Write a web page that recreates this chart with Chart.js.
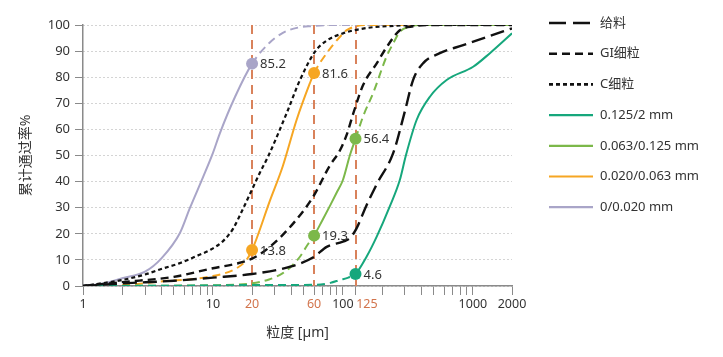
<!DOCTYPE html>
<html><head><meta charset="utf-8">
<script src="https://cdn.jsdelivr.net/npm/chart.js@4.4.0/dist/chart.umd.min.js"></script>
<style>html,body{margin:0;padding:0;background:#fff}#wrap{width:723px;height:357px}</style>
</head><body><div id="wrap"><canvas id="c" width="723" height="357"></canvas></div>
<script>
// ---- data ----
const seriesNames = ['给料', 'GI细粒', 'C细粒', '0.125/2 mm', '0.063/0.125 mm', '0.020/0.063 mm', '0/0.020 mm'];

const feedX = [1, 2, 5, 10, 20, 40, 60, 75, 100, 113, 127, 150, 182, 244, 300, 347, 415, 557, 842, 1300, 2000];
const feedY = [0, 1, 2, 3.2, 4.6, 7.5, 11.2, 15, 17, 18.3, 22, 30.3, 39, 51, 67, 79, 85.4, 89.2, 92.3, 95.5, 98.7];

const giX = [1, 2, 5, 10, 15, 20, 27.4, 41.5, 59, 79, 95, 107, 120, 143, 182, 217, 274, 350, 500, 2000];
const giY = [0, 1.5, 3.5, 6.8, 8.5, 10.5, 15, 24, 34.2, 46, 52, 58, 66, 77, 85.3, 91.5, 98, 99.5, 100, 100];

const cX = [1, 2, 3, 4, 5.6, 7.5, 9.5, 12, 14.3, 17, 20, 23, 26.5, 36.9, 46.7, 61, 75, 100, 150, 230, 400, 2000];
const cY = [0, 2.3, 4.4, 6.5, 8.8, 11.5, 13.8, 17.3, 22, 29.5, 37, 43.5, 49.5, 66.2, 78.9, 89.8, 94, 96.8, 98.8, 99.6, 100, 100];

const tealX = [1, 10, 20, 40, 63, 80, 95, 110, 125, 152, 182, 229, 274, 305, 369, 467, 628, 1005, 1352, 2000];
const tealY = [0, 0.2, 0.4, 0.4, 0.5, 1.2, 2.3, 3.2, 4.6, 11.2, 18.9, 30.4, 40.6, 50, 63.6, 72.5, 78.9, 84, 89.2, 96.8];

const greenX = [1, 10, 19.8, 27, 34.5, 40, 46.7, 53, 60, 70, 80, 90, 100, 113, 125, 143, 171, 217, 244, 274, 326, 400, 2000];
const greenY = [0, 0.3, 1, 2.5, 4.9, 7.5, 11.2, 15.5, 19.3, 25.5, 31, 36, 40.6, 50, 56.4, 65, 74, 88, 93, 97.4, 99.4, 100, 100];

const orangeX = [1, 2, 3.9, 9.5, 15.2, 18.1, 20, 27.4, 34.5, 44, 55.7, 60, 75, 95, 107, 150, 2000];
const orangeY = [0, 0.3, 1.7, 3.6, 6.8, 10, 13.8, 32.6, 46, 63.6, 77.7, 81.6, 89.2, 95.5, 98, 100, 100];

const lavX = [1, 1.5, 2, 3, 4.03, 5.57, 6.65, 8.42, 10, 11.3, 14.8, 20, 27, 34.5, 45, 58, 80, 2000];
const lavY = [0, 1.2, 3, 5.5, 10.7, 20.3, 29.9, 41.9, 51, 58.5, 72.5, 85.2, 93, 97, 99, 99.6, 100, 100];

// solid ranges of fraction curves and marked points
const tealRange = [125, 2000], greenRange = [60, 125], orangeRange = [20, 60], lavRange = [1, 20];
const tealMarks = [125], greenMarks = [60, 125], orangeMarks = [20, 60], lavMarks = [20];

const refLines = [20, 60, 125];
const xTickValues = [1,2,3,4,5,6,7,8,9,10,20,30,40,50,60,70,80,90,100,125,200,300,400,500,600,700,800,900,1000,2000];
const xTickLabels = [1, 10, 20, 60, 100, 125, 1000, 2000];
const yTickMax = 100, yTickStep = 10;

// ---- styles ----
const FONT = "'Noto Sans', 'Noto Sans CJK SC', sans-serif";
const TXT = '#333333';
const RED = '#d9825b';
const RED_TXT = '#d2744c';
const COL = {black:'#111111', teal:'#16a77c', green:'#7cb84a', orange:'#f6a623', lav:'#a9a5c8'};
const fracDash = [8, 5];

function pts(xs, ys){ return xs.map((x,i)=>({x:x, y:ys[i]})); }
function segDash(range){
  return ctx => (ctx.p0.parsed.x >= range[0]-1e-9 && ctx.p1.parsed.x <= range[1]+1e-9) ? [] : fracDash;
}
function markRadius(marks){ return ctx => (ctx.raw && marks.includes(ctx.raw.x)) ? 6 : 0; }

const datasets = [
  {label: seriesNames[0], data: pts(feedX, feedY), borderColor: COL.black, borderWidth: 2.4, borderDash: [14, 6], marks: []},
  {label: seriesNames[1], data: pts(giX, giY), borderColor: COL.black, borderWidth: 2.4, borderDash: [8, 5], marks: []},
  {label: seriesNames[2], data: pts(cX, cY), borderColor: COL.black, borderWidth: 2.2, borderDash: [4, 3], marks: []},
  {label: seriesNames[3], data: pts(tealX, tealY), borderColor: COL.teal, borderWidth: 2, segment:{borderDash: segDash(tealRange)}, marks: tealMarks},
  {label: seriesNames[4], data: pts(greenX, greenY), borderColor: COL.green, borderWidth: 2, segment:{borderDash: segDash(greenRange)}, marks: greenMarks},
  {label: seriesNames[5], data: pts(orangeX, orangeY), borderColor: COL.orange, borderWidth: 2, segment:{borderDash: segDash(orangeRange)}, marks: orangeMarks},
  {label: seriesNames[6], data: pts(lavX, lavY), borderColor: COL.lav, borderWidth: 2, segment:{borderDash: segDash(lavRange)}, marks: lavMarks}
].map(d => Object.assign(d, {
  fill: false, cubicInterpolationMode: 'monotone',
  pointRadius: markRadius(d.marks), pointBackgroundColor: d.borderColor, pointBorderColor: d.borderColor,
  pointBorderWidth: 0, pointHoverRadius: 0
}));

const refLinePlugin = {
  id: 'refLines',
  beforeDatasetsDraw(chart){
    const {ctx, chartArea, scales} = chart;
    ctx.save();
    ctx.strokeStyle = RED; ctx.lineWidth = 2; ctx.setLineDash([9, 6]);
    refLines.forEach(v => {
      const x = Math.round(scales.x.getPixelForValue(v));
      ctx.beginPath(); ctx.moveTo(x, chartArea.top); ctx.lineTo(x, chartArea.bottom); ctx.stroke();
    });
    ctx.restore();
  }
};

const pointLabelPlugin = {
  id: 'pointLabels',
  afterDatasetsDraw(chart){
    const ctx = chart.ctx;
    ctx.save();
    ctx.font = '13px ' + FONT; ctx.fillStyle = TXT; ctx.textAlign = 'left'; ctx.textBaseline = 'middle';
    chart.data.datasets.forEach((ds, di) => {
      const meta = chart.getDatasetMeta(di);
      ds.data.forEach((p, i) => {
        if (ds.marks.includes(p.x)) {
          const el = meta.data[i];
          ctx.fillText(p.y.toFixed(1), el.x + 8, el.y + 1);
        }
      });
    });
    ctx.restore();
  }
};

const legendPlugin = {
  id: 'customLegend',
  afterDraw(chart){
    const ctx = chart.ctx;
    ctx.save();
    chart.data.datasets.forEach((ds, i) => {
      const y = 23 + i * 30.7;
      ctx.beginPath();
      ctx.strokeStyle = ds.borderColor;
      ctx.lineWidth = i < 3 ? 2.6 : 2.2;
      ctx.setLineDash(i === 0 ? [17, 7] : (ds.borderDash || []));
      ctx.moveTo(549, y); ctx.lineTo(593, y); ctx.stroke();
      ctx.setLineDash([]);
      ctx.font = '13px ' + FONT; ctx.fillStyle = TXT; ctx.textAlign = 'left'; ctx.textBaseline = 'middle';
      ctx.fillText(ds.label, 600, y);
    });
    ctx.restore();
  }
};

Chart.defaults.font.family = FONT;
new Chart(document.getElementById('c'), {
  type: 'line',
  data: {datasets: datasets},
  plugins: [refLinePlugin, pointLabelPlugin, legendPlugin],
  options: {
    responsive: false, animation: false, events: [],
    layout: {padding: {left: 10, right: 211, top: 25, bottom: 0}},
    plugins: {legend: {display: false}, tooltip: {enabled: false}},
    scales: {
      x: {
        type: 'logarithmic', min: 1, max: 2000,
        afterBuildTicks: s => { s.ticks = xTickValues.map(v => ({value: v})); },
        afterFit: s => { s.height = 71; },
        ticks: {
          autoSkip: false, maxRotation: 0, padding: 2,
          font: {size: 12.5},
          color: c => refLines.includes(c.tick && c.tick.value) ? RED_TXT : TXT,
          callback: v => xTickLabels.includes(v) ? (v === 125 ? '       125' : String(v)) : ''
        },
        grid: {display: true, drawOnChartArea: false, drawTicks: true, tickLength: 9, color: '#8a8a8a', lineWidth: 1, tickBorderDash: []},
        border: {display: true, color: '#8a8a8a', width: 1.5},
        title: {display: true, text: '粒度 [µm]', color: TXT, font: {size: 14}, padding: {top: 0, bottom: 16}}
      },
      y: {
        min: 0, max: yTickMax,
        afterFit: s => { s.width = 73; },
        ticks: {stepSize: yTickStep, color: TXT, font: {size: 13}, padding: 5},
        grid: {color: '#a8a8a8', lineWidth: 1, drawTicks: true, tickLength: 8, tickColor: '#8a8a8a', tickBorderDash: []},
        border: {display: true, color: '#8a8a8a', width: 1.5, dash: [1, 3]},
        title: {display: true, text: '累计通过率%', color: TXT, font: {size: 14}, padding: {top: 8, bottom: 0}}
      }
    }
  }
});
</script>
</body></html>
